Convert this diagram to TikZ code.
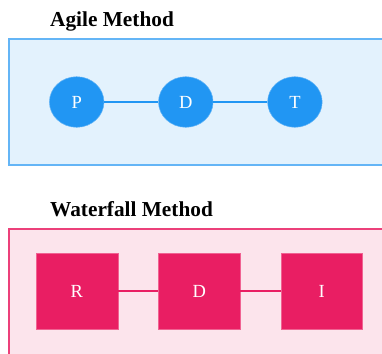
\documentclass[tikz,border=0pt]{standalone}
\usepackage{fontspec}
\setmainfont{Liberation Serif}
\usetikzlibrary{shapes.geometric}
\definecolor{agileBg}{HTML}{E3F2FD}
\definecolor{agileLine}{HTML}{64B5F6}
\definecolor{agileNode}{HTML}{2196F3}
\definecolor{wfBg}{HTML}{FCE4EC}
\definecolor{wfLine}{HTML}{EC407A}
\definecolor{wfNode}{HTML}{E91E63}
\definecolor{wfEdge}{HTML}{F06292}
\tikzset{
  title/.style={anchor=base west, inner sep=0pt, font=\fontsize{21.3}{21.3}\selectfont\bfseries},
  panelA/.style={fill=agileBg, draw=agileLine, line width=2pt},
  panelW/.style={fill=wfBg, draw=wfLine, line width=2pt},
  circnode/.style={ellipse, fill=agileNode, draw=agileLine, line width=0.5pt, minimum width=54.6pt, minimum height=50.6pt, inner sep=0pt, text=white, font=\fontsize{18.5}{18.5}\selectfont},
  sqnode/.style={rectangle, fill=wfNode, draw=wfEdge, line width=0.5pt, minimum width=81.7pt, minimum height=76pt, inner sep=0pt, text=white, font=\fontsize{18.5}{18.5}\selectfont},
  linkA/.style={draw=agileNode, line width=2.3pt},
  linkW/.style={draw=wfNode, line width=2.3pt},
}
\begin{document}
\begin{tikzpicture}[x=1pt,y=-1pt]
\useasboundingbox (0,0) rectangle (382,353);
\clip (0,0) rectangle (382,353);
\fill[white] (0,0) rectangle (382,353);
% Agile
\node[title] (ta) at (50,26.5) {Agile Method};
\path[panelA] (8.5,39.5) rectangle (395,165);
\node[circnode] (p) at (76.7,102) {P};
\node[circnode] (d1) at (185.8,102) {D};
\node[circnode] (t) at (294.9,102) {T};
\path[linkA] (p) -- (d1);
\path[linkA] (d1) -- (t);
% Waterfall
\node[title] (tw) at (50,216) {Waterfall Method};
\path[panelW] (8.5,228.5) rectangle (395,370);
\node[sqnode] (r) at (76.9,291.3) {R};
\node[sqnode] (d2) at (199.3,291.3) {D};
\node[sqnode] (i) at (321.7,291.3) {I};
\path[linkW] (r) -- (d2);
\path[linkW] (d2) -- (i);
\end{tikzpicture}
\end{document}
